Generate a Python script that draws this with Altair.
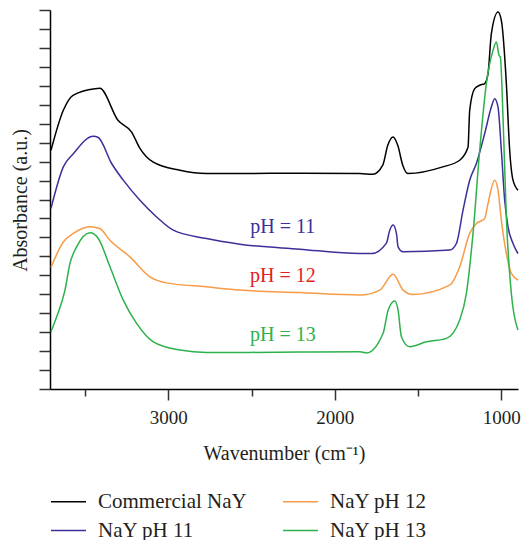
import altair as alt
import pandas as pd

# ---- data (wavenumber cm^-1, absorbance a.u.) ----
black_wn = [3704, 3630, 3572, 3440, 3411, 3302, 3220, 3170, 3092, 2930, 2770, 2570, 2210, 1850, 1772, 1712, 1682, 1650, 1622, 1592, 1562, 1352, 1250, 1200, 1190, 1160, 1130, 1100, 1080, 1060, 1020, 1000, 970, 950, 930, 900]
black_ab = [12.60, 14.71, 15.50, 15.85, 15.87, 14.18, 13.56, 12.70, 11.98, 11.54, 11.37, 11.37, 11.39, 11.37, 11.33, 11.81, 12.86, 13.30, 12.86, 11.81, 11.37, 11.72, 12.07, 12.77, 14.71, 15.85, 16.03, 16.12, 16.64, 18.75, 19.89, 19.45, 16.13, 12.60, 11.02, 10.49]

blue_wn = [3704, 3630, 3570, 3450, 3420, 3340, 3270, 3170, 3070, 2970, 2770, 2570, 2210, 1850, 1778, 1690, 1670, 1650, 1630, 1620, 1590, 1310, 1270, 1230, 1190, 1150, 1100, 1060, 1040, 1020, 1000, 980, 960, 930, 900]
blue_ab = [9.53, 11.72, 12.42, 13.34, 13.27, 11.90, 11.02, 9.96, 9.08, 8.38, 7.94, 7.64, 7.38, 7.15, 7.15, 7.70, 8.38, 8.65, 8.21, 7.50, 7.24, 7.33, 7.68, 9.44, 11.02, 11.90, 13.48, 14.88, 15.32, 14.88, 12.60, 9.96, 8.56, 7.68, 7.15]

orange_wn = [3704, 3630, 3570, 3470, 3411, 3350, 3230, 3110, 3010, 2770, 2570, 2210, 1850, 1730, 1650, 1590, 1530, 1310, 1250, 1190, 1150, 1100, 1080, 1040, 1020, 1000, 970, 940, 900]
orange_ab = [6.42, 7.76, 8.21, 8.56, 8.47, 7.85, 6.97, 5.92, 5.60, 5.39, 5.22, 5.09, 4.96, 5.22, 6.06, 5.22, 4.99, 5.48, 6.45, 8.21, 8.73, 9.00, 9.79, 11.02, 10.49, 8.91, 7.15, 6.10, 5.75]

green_wn = [3704, 3670, 3620, 3590, 3550, 3470, 3420, 3350, 3270, 3190, 3090, 2930, 2770, 2570, 2210, 1850, 1810, 1710, 1680, 1640, 1620, 1600, 1550, 1450, 1330, 1250, 1210, 1170, 1130, 1090, 1050, 1030, 1014, 1006, 990, 970, 940, 900]
green_ab = [3.02, 3.81, 5.22, 6.63, 7.50, 8.24, 7.94, 6.45, 4.69, 3.46, 2.49, 2.06, 1.93, 1.93, 1.95, 1.97, 1.90, 2.94, 4.16, 4.65, 4.16, 2.76, 2.23, 2.49, 2.67, 3.64, 5.04, 8.21, 12.60, 16.11, 17.87, 18.31, 17.61, 17.52, 14.35, 9.08, 5.04, 3.11]

series_names = ["Commercial NaY", "NaY pH 11", "NaY pH 12", "NaY pH 13"]
series_colors = ["#000000", "#3b2f99", "#f89b46", "#2cb24b"]

ann_text = ["pH = 11", "pH = 12", "pH = 13"]
ann_wn = [2312, 2312, 2312]
ann_ab = [8.54, 5.96, 2.85]
ann_color = ["#3b2f99", "#e31e24", "#2cb24b"]

x_tick_values = [3500, 3000, 2500, 2000, 1500, 1000]
y_tick_values = list(range(0, 21))

FONT = "Liberation Serif"

rows = []
for name, wn, ab in [
    (series_names[0], black_wn, black_ab),
    (series_names[1], blue_wn, blue_ab),
    (series_names[2], orange_wn, orange_ab),
    (series_names[3], green_wn, green_ab),
]:
    for i, (w, a) in enumerate(zip(wn, ab)):
        rows.append({"series": name, "wn": w, "ab": a, "order": i})
df = pd.DataFrame(rows)

ann_df = pd.DataFrame({"wn": ann_wn, "ab": ann_ab, "text": ann_text, "color": ann_color})

x_scale = alt.Scale(domain=[900, 3710], reverse=True, nice=False, zero=False)
y_scale = alt.Scale(domain=[0, 20], nice=False, zero=False)

x_axis = alt.Axis(
    values=x_tick_values,
    format="d",
    labelExpr="datum.value % 1000 === 0 ? datum.label : ''",
    title="Wavenumber (cm⁻¹)",
    tickSize={"condition": {"test": "datum.value % 1000 === 0", "value": 11}, "value": 7},
    labelPadding=8,
    titleX=234,
    titleY=70,
    titleBaseline="alphabetic",
)
y_axis = alt.Axis(
    values=y_tick_values,
    labels=False,
    tickSize=11,
    title="Absorbance (a.u.)",
    titleX=-24,
    titleY=190,
    titleBaseline="alphabetic",
    titleAnchor="middle",
    titleAlign="center",
)

lines = alt.Chart(df).mark_line(strokeWidth=1.5, interpolate="monotone").encode(
    x=alt.X("wn:Q", scale=x_scale, axis=x_axis),
    y=alt.Y("ab:Q", scale=y_scale, axis=y_axis),
    color=alt.Color(
        "series:N",
        scale=alt.Scale(domain=series_names, range=series_colors),
        legend=alt.Legend(
            title=None,
            orient="none",
            legendX=0,
            legendY=473,
            columns=2,
            symbolType="stroke",
            symbolSize=1225,
            symbolStrokeWidth=1.5,
            labelOffset=11,
            columnPadding=33,
            rowPadding=-9,
            labelFont=FONT,
            labelFontSize=21,
            labelColor="#231f20",
            padding=0,
        ),
    ),
    order="order:Q",
)

texts = alt.Chart(ann_df).mark_text(font=FONT, fontSize=20, align="center", baseline="middle").encode(
    x=alt.X("wn:Q", scale=x_scale, axis=x_axis),
    y=alt.Y("ab:Q", scale=y_scale, axis=y_axis),
    text="text:N",
    color=alt.Color("color:N", scale=None),
)

chart = alt.layer(lines, texts).properties(
    width=468,
    height=379,
    padding={"left": 50, "top": 10, "right": 5, "bottom": 151},
    autosize=alt.AutoSizeParams(type="none"),
).configure_view(stroke=None).configure_axis(
    domainColor="#000000",
    domainWidth=1.5,
    tickColor="#333333",
    tickWidth=1.5,
    labelFont=FONT,
    labelFontSize=19,
    labelColor="#231f20",
    titleFont=FONT,
    titleFontSize=20,
    titleFontWeight="normal",
    titleColor="#231f20",
    grid=False,
)

chart.save("out.html", embed_options={"renderer": "svg", "actions": False})
